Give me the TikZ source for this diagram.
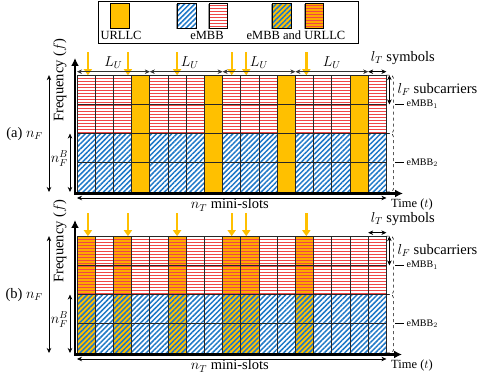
\documentclass[tikz,border=0pt]{standalone}
\usepackage{fontspec}
\setmainfont{Liberation Serif}
\usetikzlibrary{arrows.meta,patterns.meta}

\definecolor{urllcGold}{RGB}{255,192,0}
\definecolor{mixOrange}{RGB}{255,170,0}
\definecolor{embbBlue}{RGB}{30,120,200}
\definecolor{embbRed}{RGB}{240,70,70}

\tikzset{
  embbOne/.style={draw=embbRed, line width=0.85pt},
  embbTwo/.style={pattern={Lines[angle=45,distance=3.6pt,line width=1.5pt]}, pattern color=embbBlue},
  gridLine/.style={draw=black!85, line width=0.8pt},
  axisLine/.style={line width=2.4pt, -{Latex[length=8pt,width=8pt]}},
  dimLine/.style={line width=0.6pt, {Stealth[length=5pt,width=4.5pt]}-{Stealth[length=5pt,width=4.5pt]}},
  arrival/.style={draw=urllcGold, line width=2.4pt, -{Triangle[length=6pt,width=8pt]}},
  bandBrace/.style={dashed, line width=0.6pt, rounded corners=3pt},
  lbl/.style={font=\fontsize{14.5}{16}\selectfont, inner sep=0pt},
  smallLbl/.style={font=\fontsize{10}{12}\selectfont, inner sep=0pt},
  legLbl/.style={font=\fontsize{12.5}{14}\selectfont, inner sep=0pt, anchor=base},
  swatch/.style={draw=black, line width=0.7pt},
}

\begin{document}
\begin{tikzpicture}[x=1pt,y=1pt]
\def\cellw{18.2pt}
\def\cellh{29.2pt}
\useasboundingbox (0,0) rectangle (491,382);
% Legend
\draw[line width=0.8pt] (98,339) rectangle (358,381);
\fill[black!40] (109.5,352.9) rectangle ++(18.6,25);
\filldraw[swatch, fill=urllcGold] (110.7,353.7) rectangle (129.3,378.7);
\fill[black!40] (176.1,352.9) rectangle ++(19.4,25);
\fill[white] (177.3,353.7) rectangle (196.7,378.7);
\fill[embbTwo] (177.3,353.7) rectangle (196.7,378.7);
\fill[black!40] (207.8,352.9) rectangle ++(18.7,25);
\fill[white] (209,353.7) rectangle (227.7,378.7);
\foreach \k in {0,...,7}
  \draw[embbOne] (209,355.2+3*\k) -- (227.7,355.2+3*\k);
\fill[black!40] (271.1,352.9) rectangle ++(19.4,25);
\fill[urllcGold] (272.3,353.7) rectangle (291.7,378.7);
\fill[embbTwo] (272.3,353.7) rectangle (291.7,378.7);
\fill[black!40] (303.8,352.9) rectangle ++(18.3,25);
\fill[mixOrange] (305,353.7) rectangle (323.3,378.7);
\foreach \k in {0,...,7}
  \draw[embbOne] (305,355.2+3*\k) -- (323.3,355.2+3*\k);
\draw[swatch] (177.3,353.7) rectangle (196.7,378.7);
\draw[swatch] (209,353.7) rectangle (227.7,378.7);
\draw[swatch] (272.3,353.7) rectangle (291.7,378.7);
\draw[swatch] (305,353.7) rectangle (323.3,378.7);
\node[legLbl] (legUrllc) at (121,342) {URLLC};
\node[legLbl] (legEmbb) at (207,342) {eMBB};
\node[legLbl] (legBoth) at (296,342) {eMBB and URLLC};

% (a) URLLC served at the end of each window
\begin{scope}[shift={(77pt,190pt)}, x=\cellw, y=\cellh]
  % Background and eMBB bands
  \fill[white] (0,0) rectangle (17,4);
  \foreach \k in {0,...,18}
    \draw[embbOne] ([yshift=1.5pt+3pt*\k]0,2) -- ([yshift=1.5pt+3pt*\k]17,2);
  \fill[embbTwo] (0,0) rectangle (17,2);
  % URLLC mini-slots
  \fill[urllcGold] (3,0) rectangle ++(1,4);
  \fill[urllcGold] (7,0) rectangle ++(1,4);
  \fill[urllcGold] (11,0) rectangle ++(1,4);
  \fill[urllcGold] (15,0) rectangle ++(1,4);
  % Vertical lines
  \begin{scope}[gridLine]
    \draw (1,0) -- (1,4);
    \draw (2,0) -- (2,4);
    \draw (3,0) -- (3,4);
    \draw (4,0) -- (4,4);
    \draw (5,0) -- (5,4);
    \draw (6,0) -- (6,4);
    \draw (7,0) -- (7,4);
    \draw (8,0) -- (8,4);
    \draw (9,0) -- (9,4);
    \draw (10,0) -- (10,4);
    \draw (11,0) -- (11,4);
    \draw (12,0) -- (12,4);
    \draw (13,0) -- (13,4);
    \draw (14,0) -- (14,4);
    \draw (15,0) -- (15,4);
    \draw (16,0) -- (16,4);
  \end{scope}
  % Horizontal lines
  \begin{scope}[gridLine]
    \draw (0,1) -- (17,1);
    \draw (0,2) -- (17,2);
    \draw (0,3) -- (17,3);
    \draw (0,0) rectangle (17,4);
  \end{scope}
  % Axes
  \draw[axisLine] (-2pt,-1.5pt) -- (-2pt,134pt);
  \draw[axisLine] (-3.2pt,-1.5pt) -- (326pt,-1.5pt);
  \node[lbl, rotate=90] (freqA) at (-17pt,112pt) {Frequency ($f$)};
  \node[lbl, anchor=base west, font=\fontsize{12.5}{14}\selectfont] (timeA) at ([xshift=4.6pt,yshift=-16pt]17,0) {Time ($t$)};
  % Sizes
  \draw[dimLine] ([yshift=-6pt]0,0) -- ([yshift=-6pt]17,0);
  \node[lbl, anchor=base] (ntA) at ([yshift=-17pt]8.4,0) {$n_T$ mini-slots};
  \draw[dimLine] ([xshift=-28pt]0,0) -- ([xshift=-28pt]0,4);
  \node[lbl, anchor=east] (nfA) at ([xshift=-34pt]0,2) {(a) $n_F$};
  \draw[dimLine] ([xshift=-7pt]0,0) -- ([xshift=-7pt]0,2);
  \node[lbl] (nfbA) at ([xshift=-17.5pt]0,1.15) {$n_F^B$};
  % URLLC arrivals
  \draw[arrival] ([yshift=23pt]0.6,4) -- (0.6,4);
  \draw[arrival] ([yshift=23pt]2.8,4) -- (2.8,4);
  \draw[arrival] ([yshift=23pt]5.5,4) -- (5.5,4);
  \draw[arrival] ([yshift=23pt]8.5,4) -- (8.5,4);
  \draw[arrival] ([yshift=23pt]9.3,4) -- (9.3,4);
  \draw[arrival] ([yshift=23pt]12.6,4) -- (12.6,4);
  % Windows
  \draw[dimLine, black!80] ([yshift=3.5pt]0,4) -- ([yshift=3.5pt]4,4);
  \draw[dimLine, black!80] ([yshift=3.5pt]4,4) -- ([yshift=3.5pt]8,4);
  \draw[dimLine, black!80] ([yshift=3.5pt]8,4) -- ([yshift=3.5pt]12,4);
  \draw[dimLine, black!80] ([yshift=3.5pt]12,4) -- ([yshift=3.5pt]16,4);
  \node[lbl] (luA1) at ([yshift=13pt]2,4) {$L_U$};
  \node[lbl] (luA2) at ([yshift=13pt]6.2,4) {$L_U$};
  \node[lbl] (luA3) at ([yshift=13pt]10,4) {$L_U$};
  \node[lbl] (luA4) at ([yshift=13pt]14,4) {$L_U$};
  \draw[dimLine] ([yshift=3.5pt]16,4) -- ([yshift=3.5pt]17,4);
  \node[lbl] (ltA) at ([yshift=17pt]17.9,4) {$l_T$ symbols};
  \draw[dimLine] ([xshift=3pt]17,4) -- ([xshift=3pt]17,3);
  \node[lbl, anchor=west] (lfA) at ([xshift=11pt]17,3.52) {$l_F$ subcarriers};
  % Bands
  \draw[bandBrace] (17,4) -- ([xshift=7pt]17,4) -- ([xshift=7pt]17,2) -- (17,2);
  \draw[bandBrace] (17,2) -- ([xshift=7pt]17,2) -- ([xshift=7pt]17,0) -- (17,0);
  \draw[line width=0.6pt] ([xshift=9pt]17,3) -- ([xshift=18pt]17,3);
  \node[smallLbl, anchor=west] (embbOneA) at ([xshift=20pt]17,3) {eMBB$_1$};
  \draw[line width=0.6pt] ([xshift=9pt]17,1) -- ([xshift=18pt]17,1);
  \node[smallLbl, anchor=west] (embbTwoA) at ([xshift=20pt]17,1) {eMBB$_2$};
\end{scope}

% (b) URLLC served at once, on top of eMBB
\begin{scope}[shift={(77pt,29pt)}, x=\cellw, y=\cellh]
  % Background, shared mini-slots and eMBB bands
  \fill[white] (0,0) rectangle (17,4);
  \begin{scope}[fill=mixOrange]
    \fill (0,2) rectangle ++(1,2);
    \fill (2,2) rectangle ++(1,2);
    \fill (5,2) rectangle ++(1,2);
    \fill (8,2) rectangle ++(1,2);
    \fill (9,2) rectangle ++(1,2);
    \fill (12,2) rectangle ++(1,2);
  \end{scope}
  \begin{scope}[fill=urllcGold]
    \fill (0,0) rectangle ++(1,2);
    \fill (2,0) rectangle ++(1,2);
    \fill (5,0) rectangle ++(1,2);
    \fill (8,0) rectangle ++(1,2);
    \fill (9,0) rectangle ++(1,2);
    \fill (12,0) rectangle ++(1,2);
  \end{scope}
  \foreach \k in {0,...,18}
    \draw[embbOne] ([yshift=1.5pt+3pt*\k]0,2) -- ([yshift=1.5pt+3pt*\k]17,2);
  \fill[embbTwo] (0,0) rectangle (17,2);
  % Vertical lines
  \begin{scope}[gridLine]
    \draw (1,0) -- (1,4);
    \draw (2,0) -- (2,4);
    \draw (3,0) -- (3,4);
    \draw (4,0) -- (4,4);
    \draw (5,0) -- (5,4);
    \draw (6,0) -- (6,4);
    \draw (7,0) -- (7,4);
    \draw (8,0) -- (8,4);
    \draw (9,0) -- (9,4);
    \draw (10,0) -- (10,4);
    \draw (11,0) -- (11,4);
    \draw (12,0) -- (12,4);
    \draw (13,0) -- (13,4);
    \draw (14,0) -- (14,4);
    \draw (15,0) -- (15,4);
    \draw (16,0) -- (16,4);
  \end{scope}
  % Horizontal lines
  \begin{scope}[gridLine]
    \draw (0,1) -- (17,1);
    \draw (0,2) -- (17,2);
    \draw (0,3) -- (17,3);
    \draw (0,0) rectangle (17,4);
  \end{scope}
  % Axes
  \draw[axisLine] (-2pt,-1.5pt) -- (-2pt,133pt);
  \draw[axisLine] (-3.2pt,-1.5pt) -- (325pt,-1.5pt);
  \node[lbl, rotate=90] (freqB) at (-17pt,112pt) {Frequency ($f$)};
  \node[lbl, anchor=base west, font=\fontsize{12.5}{14}\selectfont] (timeB) at ([xshift=4.6pt,yshift=-16pt]17,0) {Time ($t$)};
  % Sizes
  \draw[dimLine] ([yshift=-6pt]0,0) -- ([yshift=-6pt]17,0);
  \node[lbl, anchor=base] (ntB) at ([yshift=-17pt]8.4,0) {$n_T$ mini-slots};
  \draw[dimLine] ([xshift=-28pt]0,0) -- ([xshift=-28pt]0,4);
  \node[lbl, anchor=east] (nfB) at ([xshift=-34pt]0,2) {(b) $n_F$};
  \draw[dimLine] ([xshift=-7pt]0,0) -- ([xshift=-7pt]0,2);
  \node[lbl] (nfbB) at ([xshift=-17.5pt]0,1.15) {$n_F^B$};
  % URLLC arrivals
  \draw[arrival] ([yshift=23pt]0.6,4) -- (0.6,4);
  \draw[arrival] ([yshift=23pt]2.8,4) -- (2.8,4);
  \draw[arrival] ([yshift=23pt]5.5,4) -- (5.5,4);
  \draw[arrival] ([yshift=23pt]8.5,4) -- (8.5,4);
  \draw[arrival] ([yshift=23pt]9.3,4) -- (9.3,4);
  \draw[arrival] ([yshift=23pt]12.6,4) -- (12.6,4);
  \draw[dimLine] ([yshift=3.5pt]16,4) -- ([yshift=3.5pt]17,4);
  \node[lbl] (ltB) at ([yshift=17pt]17.9,4) {$l_T$ symbols};
  \draw[dimLine] ([xshift=3pt]17,4) -- ([xshift=3pt]17,3);
  \node[lbl, anchor=west] (lfB) at ([xshift=11pt]17,3.52) {$l_F$ subcarriers};
  % Bands
  \draw[bandBrace] (17,4) -- ([xshift=7pt]17,4) -- ([xshift=7pt]17,2) -- (17,2);
  \draw[bandBrace] (17,2) -- ([xshift=7pt]17,2) -- ([xshift=7pt]17,0) -- (17,0);
  \draw[line width=0.6pt] ([xshift=9pt]17,3) -- ([xshift=18pt]17,3);
  \node[smallLbl, anchor=west] (embbOneB) at ([xshift=20pt]17,3) {eMBB$_1$};
  \draw[line width=0.6pt] ([xshift=9pt]17,1) -- ([xshift=18pt]17,1);
  \node[smallLbl, anchor=west] (embbTwoB) at ([xshift=20pt]17,1) {eMBB$_2$};
\end{scope}
\end{tikzpicture}
\end{document}
